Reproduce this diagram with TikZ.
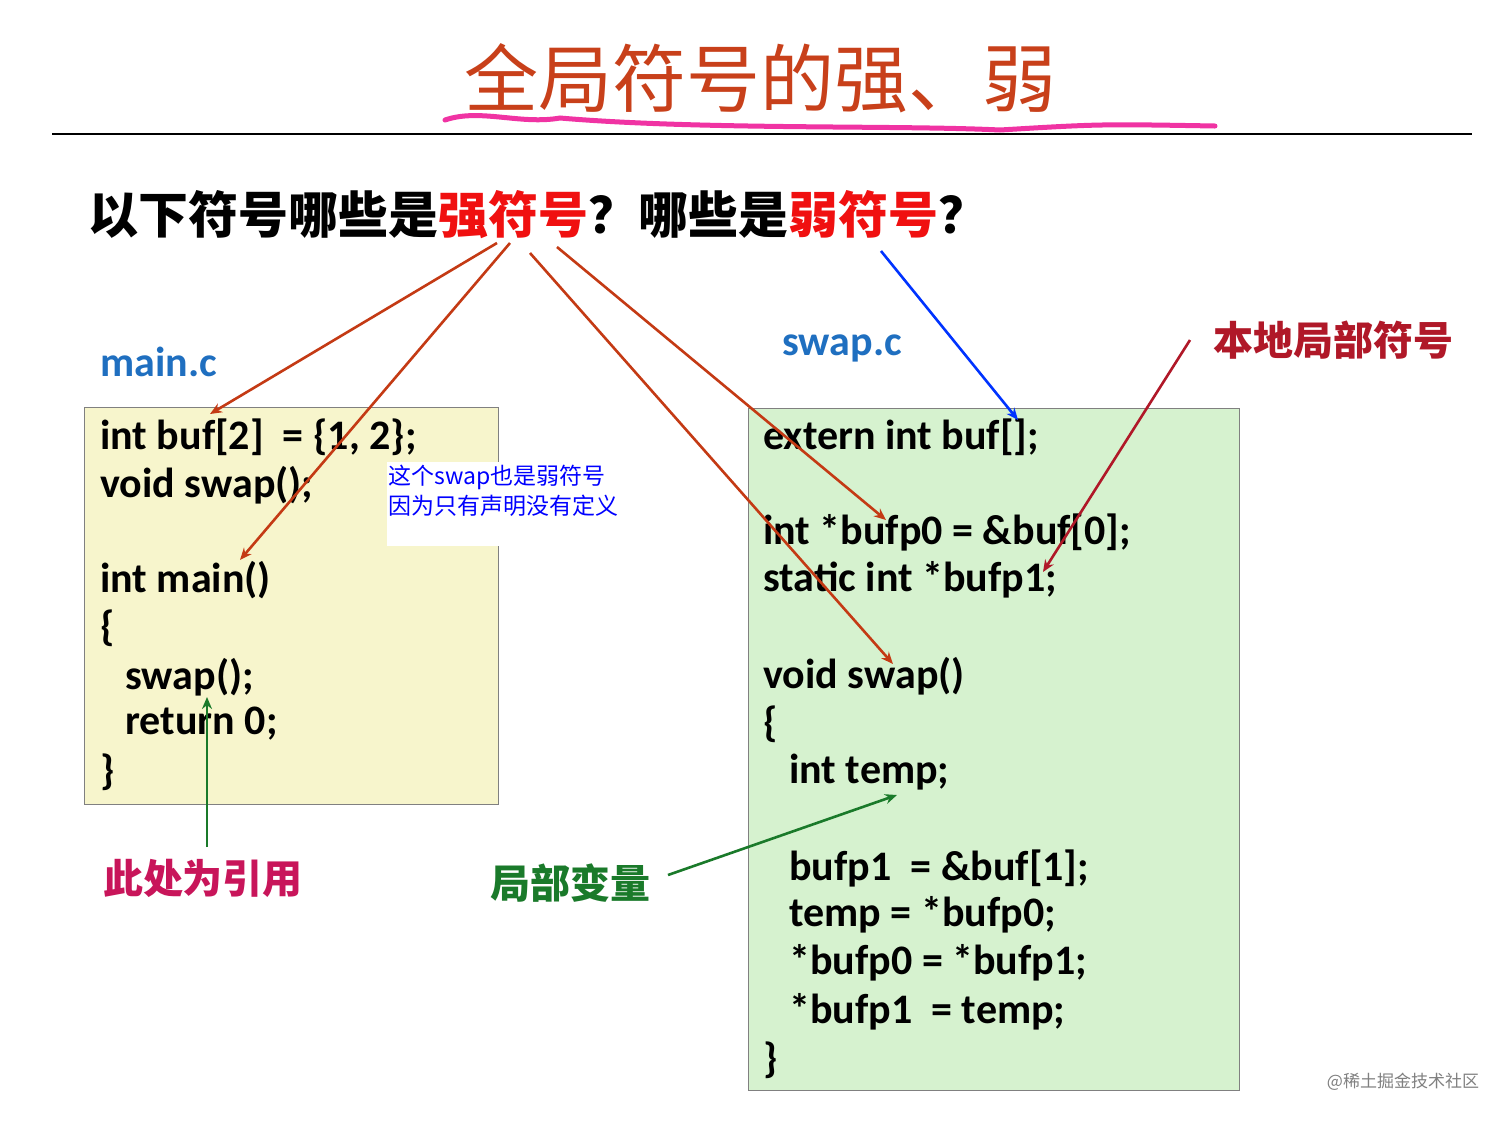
\documentclass[tikz,border=0pt]{standalone}
\usepackage{fontspec}
\usetikzlibrary{arrows.meta}
\setmainfont{Carlito}
\newfontfamily\cjk{Noto Sans CJK SC}
\definecolor{tred}{HTML}{C8401A}
\definecolor{qred}{HTML}{F01010}
\definecolor{cblue}{HTML}{1F6FC0}
\definecolor{aor}{HTML}{C43A14}
\definecolor{dred}{HTML}{B01828}
\definecolor{lred}{HTML}{C8155A}
\definecolor{gr}{HTML}{1A7A2A}
\definecolor{ybox}{HTML}{F7F5CC}
\definecolor{gbox}{HTML}{D6F2CF}
\begin{document}
\begin{tikzpicture}[x=0.5pt,y=-0.5pt,
 code/.style={anchor=west,inner sep=0,font=\fontsize{21}{24}\bfseries\selectfont},
 arr/.style={-{Stealth[length=6pt,width=5pt]},line width=1.3pt},
 lab/.style={font=\cjk\bfseries\fontsize{20}{22}\selectfont}]
\useasboundingbox (0,0) rectangle (1512,1121);
\fill[white] (0,0) rectangle (1512,1121);
\node[font=\cjk\fontsize{37}{40}\selectfont,text=tred] (title) at (760,78) {全局符号的强、弱};
\draw[magenta!80,line width=2.5pt,line cap=round] (445,120) .. controls (480,108) and (520,125) .. (560,118) .. controls (700,130) and (900,125) .. (1000,130) .. controls (1100,124) .. (1215,126);
\draw[line width=0.8pt] (52,134) -- (1472,134);
\node[anchor=west,font=\cjk\bfseries\fontsize{25}{28}\selectfont,inner sep=0] (q) at (88,215) {以下符号哪些是\textcolor{qred}{强符号}？哪些是\textcolor{qred}{弱符号}？};
\node[anchor=west,font=\fontsize{21}{24}\bfseries\selectfont,text=cblue,inner sep=0] (mc) at (100,362) {main.c};
\node[anchor=west,font=\fontsize{21}{24}\bfseries\selectfont,text=cblue,inner sep=0] (sc) at (782,348) {swap.c};
\draw[fill=ybox,draw=gray] (84,407) rectangle (498,804);
\draw[fill=gbox,draw=gray] (748,408) rectangle (1239,1090);
\fill[white] (387,462) rectangle (640,546);
\node[anchor=north west,align=left,font=\cjk\fontsize{11.5}{15}\selectfont,text=blue,inner sep=0] (note) at (388,465) {这个swap也是弱符号\\因为只有声明没有定义};
\node[code] (l1) at (100,437) {int buf[2] \ = \{1, 2\};};
\node[code] (l2) at (100,485) {void swap();};
\node[code] (l3) at (100,580) {int main()};
\node[code] (l4) at (100,628) {\{};
\node[code] (l5) at (125,677) {swap();};
\node[code] (l6) at (125,724) {return 0;};
\node[code] (l7) at (100,772) {\}};
\node[code] (r1) at (763,437) {extern int buf[];};
\node[code] (r2) at (763,532) {int *bufp0 = \&buf[0];};
\node[code] (r3) at (763,580) {static int *bufp1;};
\node[code] (r4) at (763,676) {void swap()};
\node[code] (r5) at (763,724) {\{};
\node[code] (r6) at (789,772) {int temp;};
\node[code] (r7) at (789,868) {bufp1 \ = \&buf[1];};
\node[code] (r8) at (789,915) {temp = *bufp0;};
\node[code] (r9) at (789,963) {*bufp0 = *bufp1;};
\node[code] (r10) at (789,1012) {*bufp1 \ = temp;};
\node[code] (r11) at (763,1060) {\}};
\node[lab,text=dred] (bd) at (1333,340) {本地局部符号};
\node[lab,text=lred] (yy) at (203,878) {此处为引用};
\node[lab,text=gr] (jb) at (570,883) {局部变量};
\node[font=\cjk\fontsize{8.5}{10}\selectfont,text=gray] (wm) at (1403,1082) {@稀土掘金技术社区};
\coordinate (s1) at (497,243); \coordinate (e1) at (210,414);
\coordinate (s2) at (510,243); \coordinate (e2) at (240,560);
\coordinate (s3) at (530,253); \coordinate (e3) at (893,664);
\coordinate (s4) at (557,247); \coordinate (e4) at (886,520);
\coordinate (s5) at (881,251); \coordinate (e5) at (1018,420);
\coordinate (s6) at (1190,340); \coordinate (e6) at (1043,572);
\coordinate (s7) at (207,847); \coordinate (e7) at (207,697);
\coordinate (s8) at (668,875); \coordinate (e8) at (897,795);
\draw[arr,aor] (s1) -- (e1);
\draw[arr,aor] (s2) -- (e2);
\draw[arr,aor] (s3) -- (e3);
\draw[arr,aor] (s4) -- (e4);
\draw[arr,blue!80!cyan] (s5) -- (e5);
\draw[arr,dred] (s6) -- (e6);
\draw[arr,gr] (s7) -- (e7);
\draw[arr,gr] (s8) -- (e8);
\end{tikzpicture}
\end{document}
